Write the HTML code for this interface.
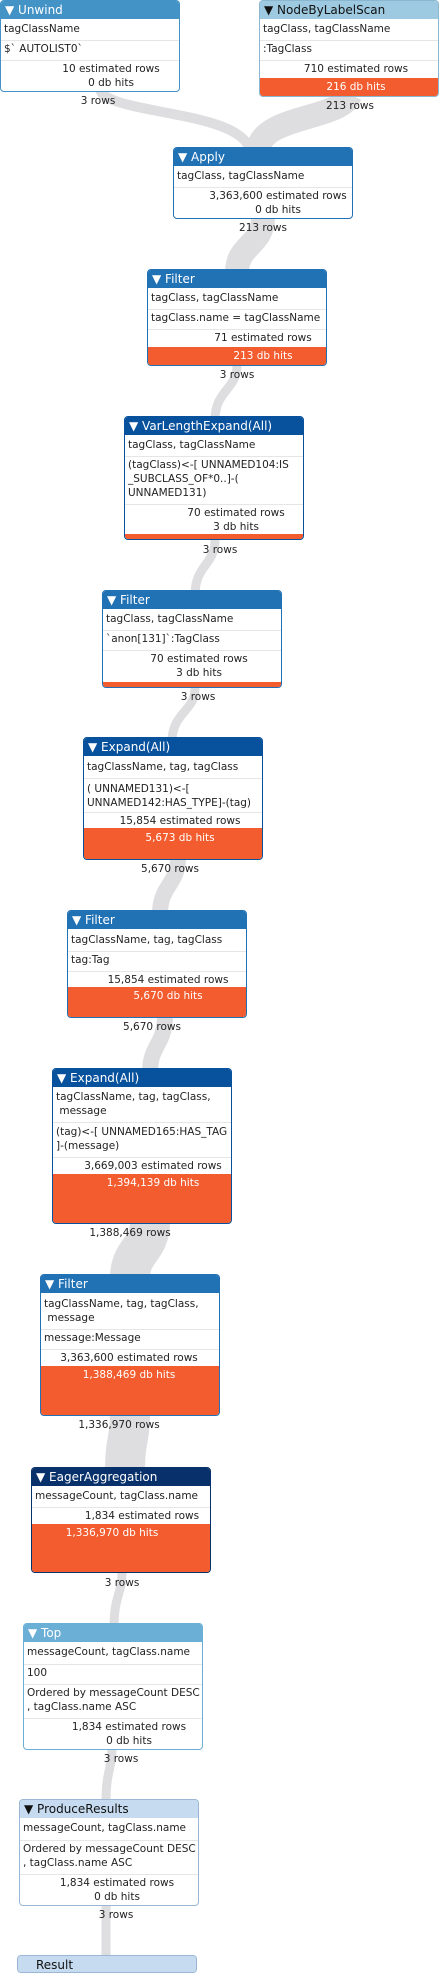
<!DOCTYPE html>
<html><head><meta charset="utf-8"><style>
body{margin:0;width:439px;height:1974px;position:relative;background:#fff;font-family:"DejaVu Sans","Liberation Sans",sans-serif;font-size:10.5px;color:#222;overflow:hidden}
.b{position:absolute;background:#fff;border:1px solid;border-radius:4px;overflow:hidden;box-sizing:border-box}
.h{position:absolute;left:0;right:0;top:0;height:18px;color:#fff;font-size:12px;line-height:18px;padding-left:4px}
.h.k{color:#111}
.t{position:absolute;left:3px;white-space:nowrap;line-height:14px}
.s{position:absolute;left:0;right:0;height:1px;background:#e6e6e6}
.o{position:absolute;left:0;right:0;bottom:0;background:#f25c2e}
.r{position:absolute;white-space:nowrap;font-size:10.5px;transform:translateX(-50%)}
.c{position:absolute;white-space:nowrap;transform:translateX(-50%);line-height:14px}
.w{color:#fff}
</style></head><body>
<svg width="439" height="1974" style="position:absolute;left:0;top:0" fill="none" stroke="#dedee0">
<path d="M100 90 C110 115,240 110,250 150" stroke-width="10"/>
<path d="M350 95 C340 120,262 115,258 150" stroke-width="24"/>
<path d="M263 218 C263 245,237 245,237 272" stroke-width="24"/>
<path d="M237 365 C237 390,215 390,215 420" stroke-width="9"/>
<path d="M215 540 C215 565,195 565,195 595" stroke-width="9"/>
<path d="M195 688 C195 712,172 712,172 742" stroke-width="9"/>
<path d="M178 858 C178 885,160 885,160 914" stroke-width="16"/>
<path d="M165 1016 C165 1045,150 1045,150 1072" stroke-width="16"/>
<path d="M150 1222 C150 1250,130 1250,130 1278" stroke-width="40"/>
<path d="M130 1414 C130 1440,125 1440,125 1470" stroke-width="40"/>
<path d="M122 1572 C122 1595,114 1595,114 1628" stroke-width="9"/>
<path d="M112 1748 C112 1770,106 1770,106 1802" stroke-width="9"/>
<path d="M106 1904 C106 1930,106 1930,106 1958" stroke-width="9"/>
</svg>

<!-- Unwind -->
<div class="b" style="left:0;top:0;width:180px;height:92px;border-color:#4393c7">
<div class="h" style="background:#4393c7">▼ Unwind</div>
<div class="t" style="top:21px">tagClassName</div><div class="s" style="top:39px"></div>
<div class="t" style="top:41px">$` AUTOLIST0`</div><div class="s" style="top:59px"></div>
<div class="c" style="top:61px;left:110px">10 estimated rows</div>
<div class="c" style="top:75px;left:110px">0 db hits</div>
</div>
<div class="r" style="left:98px;top:95px">3 rows</div>

<!-- NodeByLabelScan -->
<div class="b" style="left:259px;top:0;width:180px;height:97px;border-color:#8ab6d0">
<div class="h k" style="background:#9ecae1">▼ NodeByLabelScan</div>
<div class="t" style="top:21px">tagClass, tagClassName</div><div class="s" style="top:39px"></div>
<div class="t" style="top:41px">:TagClass</div><div class="s" style="top:59px"></div>
<div class="c" style="top:61px;left:96px">710 estimated rows</div>
<div class="o" style="height:18px"><div class="c w" style="top:2px;left:96px">216 db hits</div></div>
</div>
<div class="r" style="left:350px;top:100px">213 rows</div>

<!-- Apply -->
<div class="b" style="left:173px;top:147px;width:180px;height:72px;border-color:#2171b5">
<div class="h" style="background:#2171b5">▼ Apply</div>
<div class="t" style="top:21px">tagClass, tagClassName</div><div class="s" style="top:39px"></div>
<div class="c" style="top:41px;left:104px">3,363,600 estimated rows</div>
<div class="c" style="top:55px;left:104px">0 db hits</div>
</div>
<div class="r" style="left:263px;top:222px">213 rows</div>

<!-- Filter -->
<div class="b" style="left:147px;top:269px;width:180px;height:97px;border-color:#2171b5">
<div class="h" style="background:#2171b5">▼ Filter</div>
<div class="t" style="top:21px">tagClass, tagClassName</div><div class="s" style="top:39px"></div>
<div class="t" style="top:41px">tagClass.name = tagClassName</div><div class="s" style="top:59px"></div>
<div class="c" style="top:61px;left:115px">71 estimated rows</div>
<div class="o" style="height:18px"><div class="c w" style="top:2px;left:115px">213 db hits</div></div>
</div>
<div class="r" style="left:237px;top:369px">3 rows</div>

<!-- VarLengthExpand -->
<div class="b" style="left:124px;top:416px;width:180px;height:124px;border-color:#08519c">
<div class="h" style="background:#08519c">▼ VarLengthExpand(All)</div>
<div class="t" style="top:21px">tagClass, tagClassName</div><div class="s" style="top:39px"></div>
<div class="t" style="top:41px">(tagClass)&lt;-[ UNNAMED104:IS<br>_SUBCLASS_OF*0..]-(<br>UNNAMED131)</div><div class="s" style="top:87px"></div>
<div class="c" style="top:89px;left:111px">70 estimated rows</div>
<div class="c" style="top:103px;left:111px">3 db hits</div>
<div class="o" style="height:5px"></div>
</div>
<div class="r" style="left:220px;top:544px">3 rows</div>

<!-- Filter -->
<div class="b" style="left:102px;top:590px;width:180px;height:98px;border-color:#2171b5">
<div class="h" style="background:#2171b5">▼ Filter</div>
<div class="t" style="top:21px">tagClass, tagClassName</div><div class="s" style="top:39px"></div>
<div class="t" style="top:41px">`anon[131]`:TagClass</div><div class="s" style="top:59px"></div>
<div class="c" style="top:61px;left:96px">70 estimated rows</div>
<div class="c" style="top:75px;left:96px">3 db hits</div>
<div class="o" style="height:5px"></div>
</div>
<div class="r" style="left:198px;top:691px">3 rows</div>

<!-- Expand(All) -->
<div class="b" style="left:83px;top:737px;width:180px;height:123px;border-color:#08519c">
<div class="h" style="background:#08519c">▼ Expand(All)</div>
<div class="t" style="top:22px">tagClassName, tag, tagClass</div><div class="s" style="top:40px"></div>
<div class="t" style="top:44px">( UNNAMED131)&lt;-[<br>UNNAMED142:HAS_TYPE]-(tag)</div><div class="s" style="top:74px"></div>
<div class="c" style="top:76px;left:96px">15,854 estimated rows</div>
<div class="o" style="height:31px"><div class="c w" style="top:3px;left:96px">5,673 db hits</div></div>
</div>
<div class="r" style="left:170px;top:863px">5,670 rows</div>

<!-- Filter -->
<div class="b" style="left:67px;top:910px;width:180px;height:108px;border-color:#2171b5">
<div class="h" style="background:#2171b5">▼ Filter</div>
<div class="t" style="top:22px">tagClassName, tag, tagClass</div><div class="s" style="top:40px"></div>
<div class="t" style="top:42px">tag:Tag</div><div class="s" style="top:60px"></div>
<div class="c" style="top:62px;left:100px">15,854 estimated rows</div>
<div class="o" style="height:30px"><div class="c w" style="top:2px;left:100px">5,670 db hits</div></div>
</div>
<div class="r" style="left:152px;top:1021px">5,670 rows</div>

<!-- Expand(All) 2 -->
<div class="b" style="left:52px;top:1068px;width:180px;height:156px;border-color:#08519c">
<div class="h" style="background:#08519c">▼ Expand(All)</div>
<div class="t" style="top:21px">tagClassName, tag, tagClass,<br>&nbsp;message</div><div class="s" style="top:53px"></div>
<div class="t" style="top:56px">(tag)&lt;-[ UNNAMED165:HAS_TAG<br>]-(message)</div><div class="s" style="top:88px"></div>
<div class="c" style="top:90px;left:100px">3,669,003 estimated rows</div>
<div class="o" style="height:49px"><div class="c w" style="top:2px;left:100px">1,394,139 db hits</div></div>
</div>
<div class="r" style="left:130px;top:1227px">1,388,469 rows</div>

<!-- Filter -->
<div class="b" style="left:40px;top:1274px;width:180px;height:142px;border-color:#2171b5">
<div class="h" style="background:#2171b5">▼ Filter</div>
<div class="t" style="top:22px">tagClassName, tag, tagClass,<br>&nbsp;message</div><div class="s" style="top:54px"></div>
<div class="t" style="top:56px">message:Message</div><div class="s" style="top:74px"></div>
<div class="c" style="top:76px;left:88px">3,363,600 estimated rows</div>
<div class="o" style="height:49px"><div class="c w" style="top:2px;left:88px">1,388,469 db hits</div></div>
</div>
<div class="r" style="left:119px;top:1419px">1,336,970 rows</div>

<!-- EagerAggregation -->
<div class="b" style="left:31px;top:1467px;width:180px;height:106px;border-color:#08306b">
<div class="h" style="background:#08306b">▼ EagerAggregation</div>
<div class="t" style="top:21px">messageCount, tagClass.name</div><div class="s" style="top:39px"></div>
<div class="c" style="top:41px;left:110px">1,834 estimated rows</div>
<div class="o" style="height:48px"><div class="c w" style="top:2px;left:80px">1,336,970 db hits</div></div>
</div>
<div class="r" style="left:122px;top:1577px">3 rows</div>

<!-- Top -->
<div class="b" style="left:23px;top:1623px;width:180px;height:127px;border-color:#6baed6">
<div class="h" style="background:#6baed6">▼ Top</div>
<div class="t" style="top:21px">messageCount, tagClass.name</div><div class="s" style="top:40px"></div>
<div class="t" style="top:42px">100</div><div class="s" style="top:60px"></div>
<div class="t" style="top:62px">Ordered by messageCount DESC<br>, tagClass.name ASC</div><div class="s" style="top:94px"></div>
<div class="c" style="top:96px;left:105px">1,834 estimated rows</div>
<div class="c" style="top:110px;left:105px">0 db hits</div>
</div>
<div class="r" style="left:121px;top:1753px">3 rows</div>

<!-- ProduceResults -->
<div class="b" style="left:19px;top:1799px;width:180px;height:107px;border-color:#9ab8d6">
<div class="h k" style="background:#c6dbef">▼ ProduceResults</div>
<div class="t" style="top:21px">messageCount, tagClass.name</div><div class="s" style="top:40px"></div>
<div class="t" style="top:42px">Ordered by messageCount DESC<br>, tagClass.name ASC</div><div class="s" style="top:74px"></div>
<div class="c" style="top:76px;left:97px">1,834 estimated rows</div>
<div class="c" style="top:90px;left:97px">0 db hits</div>
</div>
<div class="r" style="left:116px;top:1909px">3 rows</div>

<!-- Result -->
<div class="b" style="left:17px;top:1955px;width:180px;height:18px;border-color:#9ab8d6;background:#c6dbef">
<div class="h k" style="background:#c6dbef;padding-left:18px">Result</div>
</div>
</body></html>
